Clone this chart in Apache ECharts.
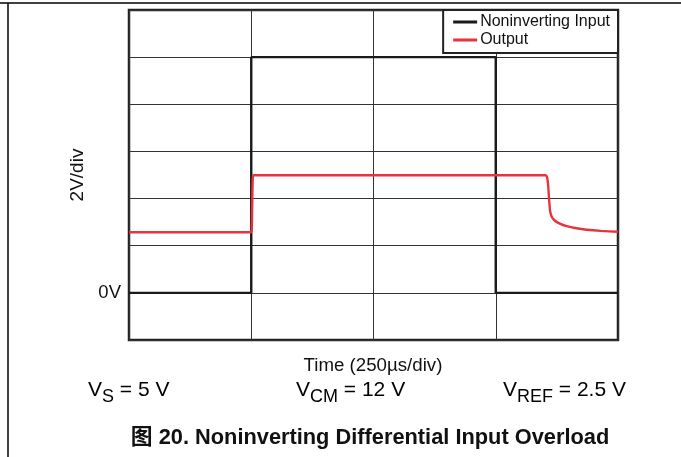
<!DOCTYPE html>
<html>
<head>
<meta charset="utf-8">
<script src="https://cdn.jsdelivr.net/npm/echarts@6/dist/echarts.min.js"></script>
<style>html,body{margin:0;padding:0;background:#fff}#c{width:681px;height:457px}</style>
</head>
<body>
<div id="c"></div>
<script>
// Time in microseconds (250 µs/div), voltage in volts (2 V/div)
var seriesNames = ['Noninverting Input', 'Output'];
var inputTime = [0, 250, 250, 750, 750, 1000];
var inputVolt = [0, 0, 10, 10, 0, 0];
var outputTime = [0, 249, 251, 252, 253, 255, 852, 855, 857, 859, 861, 864, 870, 880, 895, 915, 936, 965, 1000];
var outputVolt = [2.57, 2.57, 2.7, 3.8, 4.8, 4.99, 4.99, 4.9, 4.6, 4.0, 3.5, 3.25, 3.08, 2.95, 2.83, 2.74, 2.68, 2.63, 2.59];
var xTicks = [0, 250, 500, 750, 1000];
var yTickLabels = {0: '0V'};

function pairs(xs, ys) { return xs.map(function (x, i) { return [x, ys[i]]; }); }

var FONT = 'Liberation Sans, Arial, Helvetica, sans-serif';
var chart = echarts.init(document.getElementById('c'), null, {renderer: 'canvas'});
var subRich = {
  v: {fontSize: 21, lineHeight: 24, verticalAlign: 'top', fontFamily: FONT, color: '#111'},
  s: {fontSize: 18, lineHeight: 20, padding: [8, 0, 0, 0], verticalAlign: 'top', fontFamily: FONT, color: '#111'}
};
chart.setOption({
  animation: false,
  backgroundColor: '#fff',
  textStyle: {fontFamily: FONT},
  grid: {left: 129, right: 63, top: 10, bottom: 117, show: true, borderColor: '#222', borderWidth: 2.5, backgroundColor: 'transparent'},
  legend: {
    data: seriesNames,
    right: 63, top: 10, orient: 'vertical', align: 'left',
    backgroundColor: '#fff', borderColor: '#222', borderWidth: 2,
    padding: [4, 8, 5, 10], itemGap: 2, itemWidth: 24, itemHeight: 3, icon: 'rect',
    textStyle: {fontSize: 16, color: '#111', fontFamily: FONT, padding: [0, 0, 0, -2]}
  },
  xAxis: {
    type: 'value', min: xTicks[0], max: xTicks[xTicks.length - 1], interval: 250,
    axisLine: {show: false}, axisTick: {show: false}, axisLabel: {show: false},
    splitLine: {show: true, lineStyle: {color: '#333', width: 1}}
  },
  yAxis: {
    type: 'value', min: -2, max: 12, interval: 2,
    name: '2V/div', nameLocation: 'middle', nameGap: 37, nameRotate: 90,
    nameTextStyle: {fontSize: 19, color: '#111', fontFamily: FONT},
    axisLine: {show: false}, axisTick: {show: false},
    axisLabel: {margin: 8, fontSize: 18.5, color: '#111', fontFamily: FONT,
      formatter: function (v) { return yTickLabels[v] || ''; }},
    splitLine: {show: true, lineStyle: {color: '#333', width: 1}}
  },
  series: [
    {name: seriesNames[0], type: 'line', data: pairs(inputTime, inputVolt), showSymbol: false, symbol: 'none',
      lineStyle: {color: '#1a1a1a', width: 2.4}, itemStyle: {color: '#1a1a1a'}, z: 3},
    {name: seriesNames[1], type: 'line', data: pairs(outputTime, outputVolt), showSymbol: false, symbol: 'none', smooth: 0.2,
      lineStyle: {color: '#e8333c', width: 2.4}, itemStyle: {color: '#e8333c'}, z: 4}
  ],
  graphic: [
    {type: 'line', shape: {x1: 0, y1: 3, x2: 681, y2: 3}, style: {stroke: '#000', lineWidth: 1.5}},
    {type: 'line', shape: {x1: 8, y1: 3, x2: 8, y2: 457}, style: {stroke: '#000', lineWidth: 1.5}},
    {type: 'text', x: 373, y: 366, style: {text: 'Time (250µs/div)', fill: '#111', font: '18.7px ' + FONT, align: 'center', verticalAlign: 'middle'}},
    {type: 'text', x: 88, y: 380, style: {text: '{v|V}{s|S}{v| = 5 V}', rich: subRich, align: 'left', verticalAlign: 'top'}},
    {type: 'text', x: 296, y: 380, style: {text: '{v|V}{s|CM}{v| = 12 V}', rich: subRich, align: 'left', verticalAlign: 'top'}},
    {type: 'text', x: 503, y: 380, style: {text: '{v|V}{s|REF}{v| = 2.5 V}', rich: subRich, align: 'left', verticalAlign: 'top'}},
    {type: 'text', x: 370, y: 438, style: {text: '图 20. Noninverting Differential Input Overload', fill: '#111',
      font: 'bold 21.8px ' + FONT + ', "Noto Sans CJK SC"', align: 'center', verticalAlign: 'middle'}}
  ]
});
</script>
</body>
</html>
